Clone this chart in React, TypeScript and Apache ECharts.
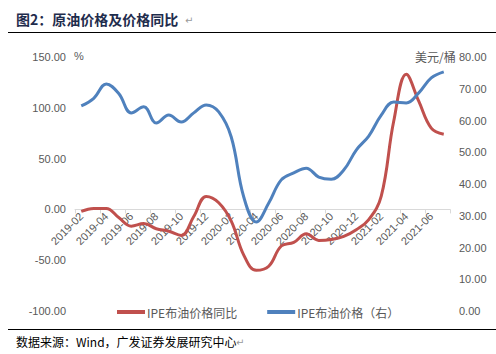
import React, { useEffect, useRef } from "react";
import * as echarts from "echarts";

const months = [
  "2019-02", "2019-03", "2019-04", "2019-05", "2019-06", "2019-07", "2019-08", "2019-09", "2019-10", "2019-11", "2019-12",
  "2020-01", "2020-02", "2020-03", "2020-04", "2020-05", "2020-06", "2020-07", "2020-08", "2020-09", "2020-10", "2020-11", "2020-12",
  "2021-01", "2021-02", "2021-03", "2021-04", "2021-05", "2021-06", "2021-07",
];

const yoyName = "IPE布油价格同比";
const priceName = "IPE布油价格（右）";

const yoyValues = [
  -2, 1, 1, -8, -16.5, -14, -19, -21.5, -25.6, -7, 12.8,
  6.6, -11.5, -45, -60, -56, -36, -32.5, -24, -30.5, -29.6, -26.6, -20,
  -10, 13, 87, 133, 106.5, 80, 74,
];

const priceValues = [
  64.6, 67.0, 71.5, 68.5, 62.4, 64.3, 59.2, 61.7, 59.5, 62.4, 64.9,
  62.7, 54.8, 35.9, 28.0, 34.0, 41.3, 43.5, 45.0, 42.2, 41.5, 44.4, 50.7,
  55.1, 61.7, 65.8, 65.5, 68.7, 73.4, 75.3,
];

const leftMin = -100;
const leftMax = 150;
const titleText = "图2：原油价格及价格同比";
const sourceText = "数据来源：Wind，广发证券发展研究中心";
const leftUnit = "%";
const rightUnit = "美元/桶";

export default function App() {
  const ref = useRef<HTMLDivElement>(null);
  useEffect(() => {
    if (!ref.current) return;
    const chart = echarts.init(ref.current, null, { renderer: "svg" });
    const labelColor = "#595959";
    const axisFont = "'Liberation Sans', Arial, sans-serif";
    const cjkFont = "'Noto Sans CJK SC', sans-serif";
    const gridTop = 57;
    const gridBottom = 43;
    const plotH = 354 - gridTop - gridBottom;
    const zeroOffset = -(plotH * (0 - leftMin)) / (leftMax - leftMin);
    chart.setOption({
      animation: false,
      backgroundColor: "#ffffff",
      grid: { left: 75, right: 46, top: gridTop, bottom: gridBottom, containLabel: false },
      legend: {
        top: 301,
        left: 112,
        itemWidth: 28,
        itemHeight: 4,
        itemGap: 30,
        icon: "rect",
        textStyle: { color: labelColor, fontSize: 12, fontFamily: cjkFont, padding: [0, 0, 0, -3] },
        data: [yoyName, priceName],
      },
      xAxis: {
        type: "category",
        data: months,
        boundaryGap: true,
        position: "bottom",
        offset: zeroOffset,
        axisLine: { onZero: false, lineStyle: { color: "#d9d9d9", width: 1 } },
        axisTick: { show: true, interval: 1, length: 4, lineStyle: { color: "#d9d9d9" } },
        axisLabel: {
          interval: 1,
          rotate: 45,
          margin: 5,
          color: labelColor,
          fontSize: 11,
          fontFamily: axisFont,
        },
        splitLine: { show: false },
      },
      yAxis: [
        {
          type: "value",
          min: leftMin,
          max: leftMax,
          interval: 50,
          axisLine: { show: false },
          axisTick: { show: false },
          splitLine: { show: false },
          axisLabel: {
            color: labelColor,
            fontSize: 11,
            fontFamily: axisFont,
            margin: 9,
            formatter: (v: number) => v.toFixed(2),
          },
        },
        {
          type: "value",
          min: 0,
          max: 80,
          interval: 10,
          position: "right",
          axisLine: { show: false },
          axisTick: { show: false },
          splitLine: { show: false },
          axisLabel: {
            color: labelColor,
            fontSize: 11,
            fontFamily: axisFont,
            margin: 9,
            formatter: (v: number) => v.toFixed(2),
          },
        },
      ],
      series: [
        {
          name: yoyName,
          type: "line",
          yAxisIndex: 0,
          data: yoyValues,
          smooth: 0.4,
          showSymbol: false,
          symbol: "none",
          itemStyle: { color: "#C0504D" },
          lineStyle: { color: "#C0504D", width: 3 },
        },
        {
          name: priceName,
          type: "line",
          yAxisIndex: 1,
          data: priceValues,
          smooth: 0.4,
          showSymbol: false,
          symbol: "none",
          itemStyle: { color: "#4F81BD" },
          lineStyle: { color: "#4F81BD", width: 3 },
        },
      ],
      graphic: [
        {
          type: "text",
          left: 16,
          top: 12,
          style: { text: titleText, fill: "#1F2D4D", font: `bold 14px ${cjkFont}` },
        },
        {
          type: "text",
          left: 185,
          top: 15,
          style: { text: "↵", fill: "#9a9a9a", font: "10px 'DejaVu Sans', sans-serif" },
        },
        {
          type: "line",
          shape: { x1: 8, y1: 32.5, x2: 496, y2: 32.5 },
          style: { stroke: "#000000", lineWidth: 1 },
        },
        {
          type: "text",
          left: 74,
          top: 50,
          style: { text: leftUnit, fill: labelColor, font: `11px ${axisFont}` },
        },
        {
          type: "text",
          left: 415,
          top: 50,
          style: { text: rightUnit, fill: labelColor, font: `12px ${cjkFont}` },
        },
        {
          type: "line",
          shape: { x1: 8, y1: 329.5, x2: 496, y2: 329.5 },
          style: { stroke: "#000000", lineWidth: 1 },
        },
        {
          type: "text",
          left: 16,
          top: 335,
          style: { text: sourceText, fill: "#000000", font: `12px ${cjkFont}` },
        },
        {
          type: "text",
          left: 236,
          top: 337,
          style: { text: "↵", fill: "#9a9a9a", font: "10px 'DejaVu Sans', sans-serif" },
        },
      ],
    });
    return () => chart.dispose();
  }, []);
  return (
    <div
      ref={ref}
      style={{ position: "absolute", left: 0, top: 0, width: 496, height: 354 }}
    />
  );
}
